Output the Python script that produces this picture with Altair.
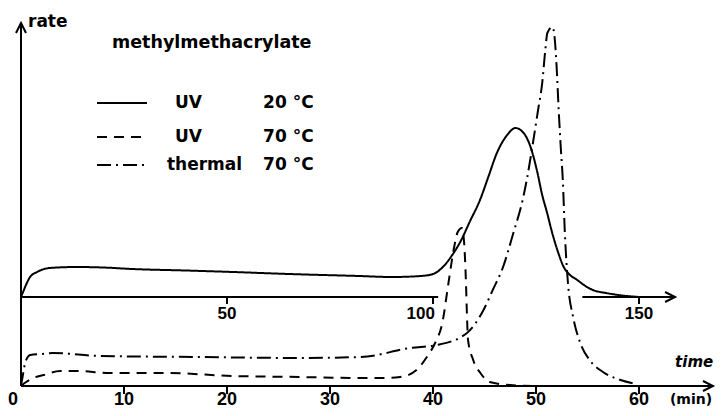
import altair as alt
import pandas as pd

# ---------------- data ----------------
# UV 20 °C : solid curve, plotted against the upper time axis (0-150),
# rate measured from its own (raised) baseline
uv20_time = [0, 0.5, 1, 2.2, 3.9, 7, 13.5, 20, 27, 40,
             51.5, 65, 82, 90, 97, 100, 102.4, 104.5, 106.6, 109,
             111.4, 113.5, 115.5, 118, 120, 122, 123.5, 125.2, 126.5, 127.7,
             129, 130.5, 131.6, 133, 135, 137, 138.8, 142, 145, 150]
uv20_rate = [0, 5, 10, 20, 25, 29, 30, 29.5, 28, 26.5,
             25, 23, 21, 20, 21, 23, 30, 41, 55, 76,
             97, 121, 144, 162, 169, 164, 152, 127, 102, 84,
             63, 43, 31, 23, 17, 11, 7, 4, 2, 0]

# UV 70 °C : dashed curve, lower time axis (min)
uv70_time = [0, 0.5, 1.2, 2.2, 3.8, 5.4, 8.6, 14, 20.6, 27,
             33, 34.9, 36.8, 38.4, 39.4, 40.2, 40.9, 41.5, 42, 42.4,
             42.8, 43, 43.2, 43.3, 43.4, 43.9, 44.6, 45.5, 47.5, 50]
uv70_rate = [0, 4, 8, 11, 15, 15, 13, 13, 10, 9,
             8, 8, 9, 16, 29, 43, 63, 103, 136, 154,
             158, 146, 103, 69, 46, 26, 13, 4, 1, 0]

# thermal 70 °C : dash-dot curve, lower time axis (min)
thermal_time = [0, 0.2, 0.4, 0.9, 2.1, 3.1, 7.7, 17.4, 27, 33,
                37.8, 40.4, 43.3, 44.9, 45.8, 46.8, 47.8, 48.7, 49.1, 49.7,
                50.2, 50.6, 50.9, 51.1, 51.6, 51.8, 52, 52.2, 52.4, 52.6,
                52.8, 53.1, 53.6, 54.3, 55.2, 56.5, 58.2, 59.8]
thermal_rate = [0, 12, 23, 31, 32, 33, 30, 29, 28, 29,
                38, 41, 53, 76, 96, 119, 153, 186, 206, 243,
                276, 303, 336, 353, 359, 349, 319, 276, 239, 206,
                153, 103, 69, 43, 26, 14, 6, 2]

lower_ticks = [10, 20, 30, 40, 50, 60]
lower_labels = ["10", "20", "30", "40", "50", "60"]
upper_ticks = [50, 100, 150]
upper_labels = ["50", "100", "150"]

legend_methods = ["UV", "UV", "thermal"]
legend_temps = ["20 °C", "70 °C", "70 °C"]
title_text = "methylmethacrylate"

UPPER_FACTOR = 2.5   # upper axis units per lower-axis minute
UPPER_BASE = 89      # height of the upper baseline in rate units

# ---------------- layout helpers ----------------
XS = alt.Scale(domain=[-1.262, 67.57], nice=False, zero=False)
YS = alt.Scale(domain=[-22, 378], nice=False, zero=False)
BLACK = "black"


def X(f="x"):
    return alt.X(f, type="quantitative", scale=XS, axis=None)


def Y(f="y"):
    return alt.Y(f, type="quantitative", scale=YS, axis=None)


def curve(times, rates, dash, xf=1.0, base=0.0):
    df = pd.DataFrame({"x": [t / xf for t in times], "y": [r + base for r in rates]})
    df["o"] = range(len(df))
    m = alt.Chart(df).mark_line(color=BLACK, strokeWidth=2, interpolate="monotone",
                                strokeDash=dash)
    return m.encode(x=X(), y=Y(), order="o:Q")


layers = []
layers.append(curve(uv20_time, uv20_rate, [1, 0], UPPER_FACTOR, UPPER_BASE))
layers.append(curve(uv70_time, uv70_rate, [10, 7]))
layers.append(curve(thermal_time, thermal_rate, [14, 5, 2, 5]))

# axes lines
axes = pd.DataFrame({
    "x": [0, 0, 54.5, 0],
    "x2": [67.18, 40.5, 63.5, 0],
    "y": [0, UPPER_BASE, UPPER_BASE, 0],
    "y2": [0, UPPER_BASE, UPPER_BASE, 363],
})
layers.append(alt.Chart(axes).mark_rule(color=BLACK, strokeWidth=2).encode(
    x=X(), x2="x2", y=Y(), y2="y2"))

# arrow heads
arr_r = pd.DataFrame({"x": [67.18, 63.5], "y": [0, UPPER_BASE]})
layers.append(alt.Chart(arr_r).mark_point(shape="M -2 -1 L 0 0 L -2 1", filled=False,
                                          size=100, strokeWidth=2, color=BLACK, opacity=1)
              .encode(x=X(), y=Y()))
arr_u = pd.DataFrame({"x": [0], "y": [363]})
layers.append(alt.Chart(arr_u).mark_point(shape="M -1 2 L 0 0 L 1 2", filled=False,
                                          size=100, strokeWidth=2, color=BLACK, opacity=1)
              .encode(x=X(), y=Y()))

# ticks
lt = pd.DataFrame({"x": lower_ticks, "y": [0] * 6, "y2": [-8] * 6})
layers.append(alt.Chart(lt).mark_rule(color=BLACK, strokeWidth=2).encode(x=X(), y=Y(), y2="y2"))
ut = pd.DataFrame({"x": [t / UPPER_FACTOR for t in upper_ticks],
                   "y": [UPPER_BASE] * 3, "y2": [UPPER_BASE - 7] * 3})
layers.append(alt.Chart(ut).mark_rule(color=BLACK, strokeWidth=2).encode(x=X(), y=Y(), y2="y2"))

# tick labels
NUMFONT = "Liberation Sans"
ll = pd.DataFrame({"x": [0] + lower_ticks, "y": [-14] * 7, "t": ["0"] + lower_labels})
ll.loc[0, "x"] = -0.78
layers.append(alt.Chart(ll).mark_text(font=NUMFONT, fontWeight="bold", fontSize=18,
                                      color=BLACK, baseline="middle", align="center")
              .encode(x=X(), y=Y(), text="t:N"))
ul = pd.DataFrame({"x": [t / UPPER_FACTOR for t in upper_ticks],
                   "y": [UPPER_BASE - 17] * 3, "t": upper_labels})
ul.loc[1, "x"] = ul.loc[1, "x"] - 1.2
layers.append(alt.Chart(ul).mark_text(font=NUMFONT, fontWeight="bold", fontSize=17,
                                      color=BLACK, baseline="middle", align="center")
              .encode(x=X(), y=Y(), text="t:N"))

# axis titles
TF = "DejaVu Sans"
layers.append(alt.Chart(pd.DataFrame({"x": [0.68], "y": [364], "t": ["rate"]}))
              .mark_text(font=TF, fontWeight="bold", fontSize=17, color=BLACK,
                         align="left", baseline="middle")
              .encode(x=X(), y=Y(), text="t:N"))
layers.append(alt.Chart(pd.DataFrame({"x": [63.5], "y": [24], "t": ["time"]}))
              .mark_text(font=TF, fontWeight="bold", fontStyle="italic", fontSize=15,
                         color=BLACK, align="left", baseline="middle")
              .encode(x=X(), y=Y(), text="t:N"))
layers.append(alt.Chart(pd.DataFrame({"x": [63.0], "y": [-14], "t": ["(min)"]}))
              .mark_text(font=TF, fontWeight="bold", fontSize=14, color=BLACK,
                         align="left", baseline="middle")
              .encode(x=X(), y=Y(), text="t:N"))

# title
layers.append(alt.Chart(pd.DataFrame({"x": [8.83], "y": [343], "t": [title_text]}))
              .mark_text(font=TF, fontWeight="bold", fontSize=17.5, color=BLACK,
                         align="left", baseline="middle")
              .encode(x=X(), y=Y(), text="t:N"))

# legend
rows_y = [283, 249, 221]
dashes = [[1, 0], [10, 7], [14, 5, 2, 5]]
for yy, d in zip(rows_y, dashes):
    layers.append(alt.Chart(pd.DataFrame({"x": [7.38], "x2": [12.23], "y": [yy]}))
                  .mark_rule(color=BLACK, strokeWidth=2, strokeDash=d)
                  .encode(x=X(), x2="x2", y=Y()))
lm = pd.DataFrame({"x": [14.95, 14.95, 14.17], "y": rows_y, "t": legend_methods})
layers.append(alt.Chart(lm).mark_text(font=TF, fontWeight="bold", fontSize=17, color=BLACK,
                                      align="left", baseline="middle")
              .encode(x=X(), y=Y(), text="t:N"))
lt2 = pd.DataFrame({"x": [23.5] * 3, "y": rows_y, "t": legend_temps})
layers.append(alt.Chart(lt2).mark_text(font=TF, fontWeight="bold", fontSize=17, color=BLACK,
                                       align="left", baseline="middle")
              .encode(x=X(), y=Y(), text="t:N"))

chart = alt.layer(*layers).properties(
    width=709, height=400, padding=0,
    autosize=alt.AutoSizeParams(type="none"),
    background="white",
).configure_view(stroke=None)

chart.save("out.html", embed_options={"renderer": "svg", "actions": False})
